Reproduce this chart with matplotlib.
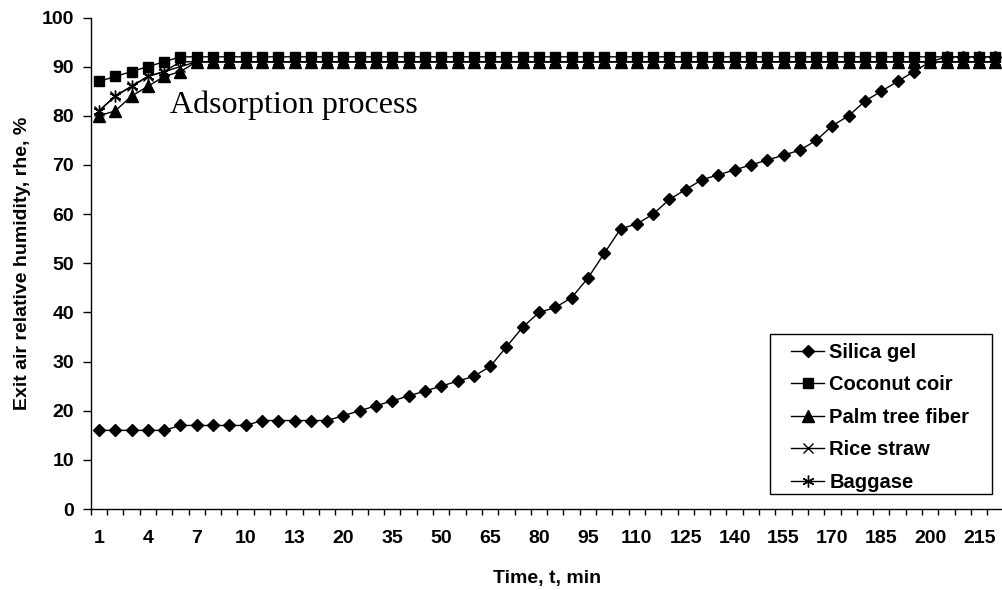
import matplotlib
matplotlib.use("Agg")
import matplotlib.pyplot as plt
from matplotlib.patches import Rectangle
import numpy as np

# ---- data ----
time_min = list(range(1, 16)) + list(range(20, 225, 5))  # 56 categories

silica_gel = [16, 16, 16, 16, 16, 17, 17, 17, 17, 17, 18, 18, 18, 18, 18,
              19, 20, 21, 22, 23, 24, 25, 26, 27, 29,
              33, 37, 40, 41, 43, 47, 52, 57, 58, 60,
              63, 65, 67, 68, 69, 70, 71, 72, 73, 75,
              78, 80, 83, 85, 87, 89, 91, 92, 92, 92, 92]
coconut_coir = [87, 88, 89, 90, 91] + [92] * 51
palm_tree_fiber = [80, 81, 84, 86, 88, 89] + [91] * 50
rice_straw = [81, 84, 86, 88, 89, 90] + [91] * 50
baggase = [81, 84, 86, 88, 89, 91] + [91] * 50

series_names = ["Silica gel", "Coconut coir", "Palm tree fiber", "Rice straw", "Baggase"]
series_values = [silica_gel, coconut_coir, palm_tree_fiber, rice_straw, baggase]
markers = ["D", "s", "^", "x", (6, 2, 0)]
msizes = [6.5, 7.5, 8, 7.5, 8.5]

plt.rcParams['font.family'] = ['Liberation Sans', 'DejaVu Sans']

W, H = 1003, 590
fig = plt.figure(figsize=(W / 100, H / 100), dpi=100)
ax_left, ax_right, ax_top, ax_bot = 90.8, 90.8 + 56 * 16.3, 17.5, 509.0
ax = fig.add_axes([ax_left / W, 1 - ax_bot / H, (ax_right - ax_left) / W, (ax_bot - ax_top) / H])

x = np.arange(len(time_min))
for name, vals, mk, ms in zip(series_names, series_values, markers, msizes):
    ax.plot(x, vals, color="black", linewidth=1.0, marker=mk, markersize=ms,
            markerfacecolor="black", markeredgecolor="black", markeredgewidth=1.0,
            label=name, clip_on=False)

ax.set_xlim(-0.5, len(time_min) - 0.5)
ax.set_ylim(0, 100)

FS = 14
# tick marks at category boundaries, labels at every third category centre
ax.set_xticks(np.arange(len(time_min) + 1) - 0.5)
ax.set_xticklabels([])
ax.tick_params(axis="x", which="major", direction="out", length=4.5, width=1, colors="black")
lab_idx = list(range(0, len(time_min), 3))
ax.set_xticks(lab_idx, minor=True)
ax.set_xticklabels([str(time_min[i]) for i in lab_idx], minor=True,
                   fontsize=FS, fontweight="bold")
ax.tick_params(axis="x", which="minor", length=0, pad=15)

ax.set_yticks(np.arange(0, 101, 10))
ax.set_yticklabels([str(v) for v in range(0, 101, 10)], fontsize=FS, fontweight="bold")
ax.tick_params(axis="y", direction="out", length=5.5, width=1, pad=6.5)

for s in ["top", "right"]:
    ax.spines[s].set_visible(False)
for s in ["left", "bottom"]:
    ax.spines[s].set_linewidth(1.0)
    ax.spines[s].set_color("black")

ax.set_xlabel("Time, t, min", fontsize=FS, fontweight="bold", labelpad=17)
ax.set_ylabel("Exit air relative humidity, rhe, %", fontsize=FS, fontweight="bold", labelpad=8)

ax.text(0.087, 0.805, "Adsorption process", transform=ax.transAxes,
        fontsize=23, family=["Liberation Serif", "DejaVu Serif"], ha="left", va="baseline")

FL = 14.5
leg = ax.legend(loc="upper left", bbox_to_anchor=(791 / W, 1 - 343 / H),
                bbox_transform=fig.transFigure, frameon=False,
                prop={"weight": "bold", "size": FL}, handlelength=1.65,
                labelspacing=0.67, borderpad=0, handletextpad=0.25, borderaxespad=0)
fig.patches.append(Rectangle((770 / W, 1 - 494 / H), 222 / W, 160 / H,
                             transform=fig.transFigure, fill=False,
                             edgecolor="black", linewidth=1.0))

fig.savefig("out.png", dpi=100)
